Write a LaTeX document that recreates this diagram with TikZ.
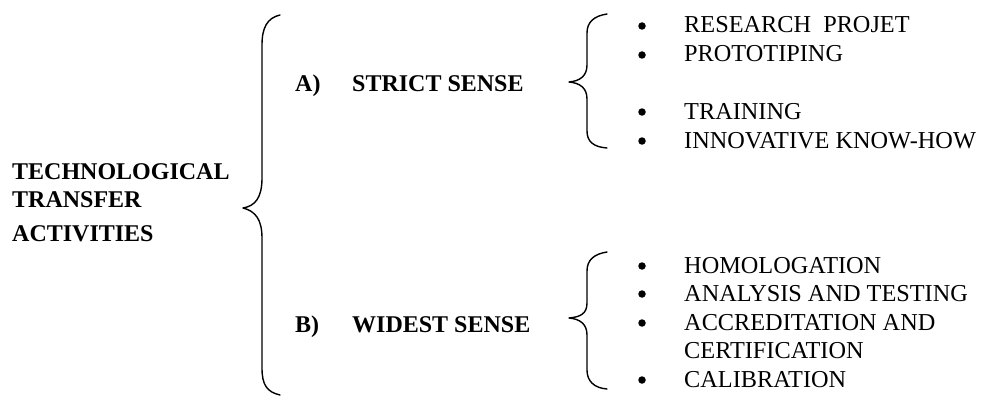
\documentclass[tikz,border=0pt]{standalone}
\usepackage{fontspec}
\setmainfont{Liberation Serif}
\newfontfamily\tnr{Liberation Serif}
\begin{document}
\begin{tikzpicture}[x=1pt,y=-1pt,
  lbl/.style={anchor=base west,inner sep=0pt,font=\tnr\fontsize{24.3}{28}\selectfont},
  blbl/.style={anchor=base west,inner sep=0pt,font=\tnr\fontsize{24}{28}\selectfont\bfseries},
  bul/.style={circle,fill=black,inner sep=0pt,minimum size=7.5pt},
  brace/.style={line width=1.4pt,line cap=round,line join=round}]
\useasboundingbox (0,0) rectangle (983,396);
% big brace
\draw[brace] (280,15) .. controls (267,18) and (262,28) .. (262,45) -- (262,178)
  .. controls (262,198) and (255,206) .. (243,208)
  .. controls (255,211) and (262,219) .. (262,238) -- (262,368)
  .. controls (262,385) and (267,392) .. (280,395);
% upper small brace
\draw[brace] (607,14) .. controls (594,16) and (587,22) .. (587,33) -- (587,65)
  .. controls (587,76) and (580,81) .. (569,82)
  .. controls (580,83) and (587,88) .. (587,99) -- (587,131)
  .. controls (587,142) and (594,147) .. (607,148);
% lower small brace
\draw[brace] (607,252) .. controls (594,254) and (587,260) .. (587,271) -- (587,303)
  .. controls (587,314) and (580,317) .. (569,318)
  .. controls (580,319) and (587,324) .. (587,335) -- (587,370)
  .. controls (587,381) and (594,388) .. (607,389);
% left label
\node[blbl] (t1) at (12,179) {TECHNOLOGICAL};
\node[blbl] (t2) at (12,207) {TRANSFER};
\node[blbl] (t3) at (12,241) {ACTIVITIES};
% categories
\node[blbl] (aA) at (295,92) {A)};
\node[blbl] (aS) at (352,92) {STRICT SENSE};
\node[blbl] (bB) at (295,332) {B)};
\node[blbl] (bS) at (352,332) {WIDEST SENSE};
% upper list
\node[bul] (u1b) at (642,26) {};
\node[lbl] (u1) at (684,33) {RESEARCH\ \ PROJET};
\node[bul] (u2b) at (642,55) {};
\node[lbl] (u2) at (684,62) {PROTOTIPING};
\node[bul] (u3b) at (642,112) {};
\node[lbl] (u3) at (684,119) {TRAINING};
\node[bul] (u4b) at (642,141) {};
\node[lbl] (u4) at (684,148) {INNOVATIVE KNOW-HOW};
% lower list
\node[bul] (l1b) at (642,266) {};
\node[lbl] (l1) at (684,273) {HOMOLOGATION};
\node[bul] (l2b) at (642,294) {};
\node[lbl] (l2) at (684,301) {ANALYSIS AND TESTING};
\node[bul] (l3b) at (642,323) {};
\node[lbl] (l3) at (684,330) {ACCREDITATION AND};
\node[lbl] (l4) at (684,358) {CERTIFICATION};
\node[bul] (l5b) at (642,380) {};
\node[lbl] (l5) at (684,387) {CALIBRATION};
\end{tikzpicture}
\end{document}
